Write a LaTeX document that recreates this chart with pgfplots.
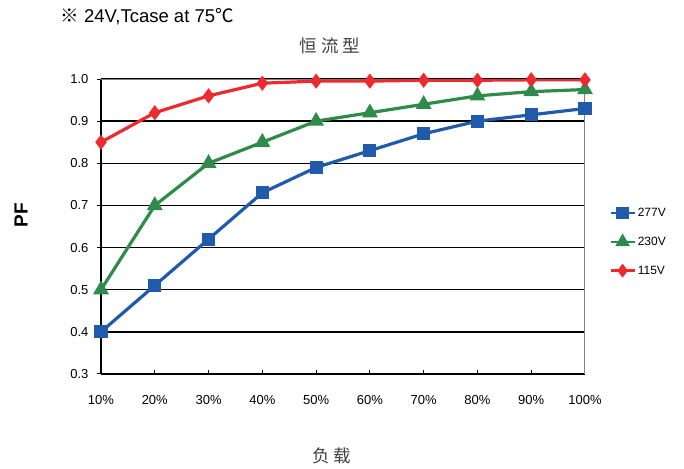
\documentclass[border=0pt]{standalone}
\usepackage{fontspec}
\setmainfont{Liberation Sans}
\newfontfamily\cjk{Noto Sans CJK SC}
\usepackage{pgfplots}
\pgfplotsset{compat=1.18}
\definecolor{c277}{HTML}{1F5BAA}
\definecolor{c230}{HTML}{2E8B4A}
\definecolor{c115}{HTML}{EE2A2F}

\begin{document}
\begin{tikzpicture}[x=1pt,y=1pt]
\path[use as bounding box] (0,0) rectangle (684,468);
\begin{axis}[
    at={(101pt,94pt)}, anchor=south west,
    scale only axis, width=484pt, height=295pt,
    xmin=10, xmax=100, ymin=0.3, ymax=1.0,
    xtick={10,20,30,40,50,60,70,80,90,100},
    xticklabels={10\%,20\%,30\%,40\%,50\%,60\%,70\%,80\%,90\%,100\%},
    ytick={0.3,0.4,0.5,0.6,0.7,0.8,0.9,1.0},
    yticklabel style={/pgf/number format/fixed,/pgf/number format/fixed zerofill,/pgf/number format/precision=1},
    /pgf/number format/assume math mode=true,
    tick label style={font=\fontsize{13}{15}\selectfont},
    xticklabel style={yshift=-14pt},
    yticklabel style={xshift=-5pt},
    axis x line*=bottom, axis y line*=left,
    axis line style={-, black, line width=1.4pt},
    ymajorgrids, major grid style={black, line width=1.4pt},
    tick align=outside, major tick length=4pt,
    tick style={black, line width=1pt},
    xtick style={yshift=4pt},
    legend style={at={(1.05,0.57)}, anchor=north west, draw=none, fill=none,
        font=\fontsize{12}{14}\selectfont, row sep=15pt, inner sep=0pt,
        cells={anchor=west}},
    legend image code/.code={\draw[mark repeat=2,mark phase=2,line width=2.4pt]
        plot coordinates {(0pt,0pt) (12pt,0pt) (24pt,0pt)};},
]
\draw[black!50, line width=1.4pt] (axis cs:10,1.0) -- (axis cs:100,1.0) -- (axis cs:100,0.3);
\addplot[c277, line width=3.2pt, mark=square*, mark size=5pt, mark options={solid}] coordinates {
  (10,0.40) (20,0.51) (30,0.62) (40,0.73) (50,0.79) (60,0.83) (70,0.87) (80,0.90) (90,0.915) (100,0.93)
};
\addlegendentry{277V}
\addplot[c230, line width=3.2pt, mark=triangle*, mark size=6pt, mark options={solid}] coordinates {
  (10,0.50) (20,0.70) (30,0.80) (40,0.85) (50,0.90) (60,0.92) (70,0.94) (80,0.96) (90,0.97) (100,0.975)
};
\addlegendentry{230V}
\addplot[c115, line width=3.2pt, mark=diamond*, mark size=5pt, mark options={solid}] coordinates {
  (10,0.85) (20,0.92) (30,0.96) (40,0.99) (50,0.995) (60,0.995) (70,0.997) (80,0.997) (90,0.998) (100,0.998)
};
\addlegendentry{115V}
\end{axis}
\node[anchor=west, font=\fontsize{18.5}{20}\selectfont] at (57,451) {{\cjk ※} 24V,Tcase at 75{\cjk ℃}};
\node[font=\cjk\fontsize{17.5}{19}\selectfont, text=black!75] at (330,422) {恒\hspace{4pt}流\hspace{4pt}型};
\node[font=\cjk\fontsize{17.5}{19}\selectfont, text=black!75] at (332,12) {负\hspace{4pt}载};
\node[rotate=90, font=\bfseries\fontsize{19}{21}\selectfont] at (21,253) {PF};
\end{tikzpicture}
\end{document}
